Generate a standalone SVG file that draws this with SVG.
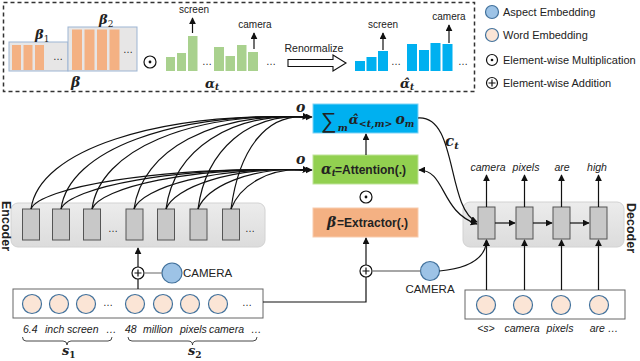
<svg xmlns="http://www.w3.org/2000/svg" width="640" height="361" viewBox="0 0 640 361">
<style>
text{font-family:"Liberation Sans",Arial,sans-serif;fill:#222}
.it{font-style:italic}
.math{font-family:"DejaVu Serif","Liberation Serif",serif;font-style:italic;font-weight:bold}
.ln{fill:none;stroke:#111;stroke-width:1.2}
.gl{fill:none;stroke:#888;stroke-width:1.3}
.cell{fill:#c8c8c8;stroke:#555;stroke-width:1}
.word{fill:#fbe5d6;stroke:#41719c;stroke-width:1.2}
.asp{fill:#9dc3e6;stroke:#41719c;stroke-width:1.2}
.ob{fill:#f4b183}
.gb{fill:#a9d18e}
.bb{fill:#00b0f0}
.op{fill:#fff;stroke:#111;stroke-width:1.2}
</style>
<defs>
<marker id="ah" viewBox="0 0 10 10" refX="9" refY="5" markerWidth="7" markerHeight="7" markerUnits="userSpaceOnUse" orient="auto-start-reverse"><path d="M0,0 L10,5 L0,10 z" fill="#111"/></marker>
<linearGradient id="gg" x1="0" y1="0" x2="0" y2="1"><stop offset="0" stop-color="#ececec"/><stop offset="1" stop-color="#dcdcdc"/></linearGradient>
</defs>

<!-- top dashed panel -->
<g id="panel">
<rect x="3.5" y="2.5" width="471" height="89" fill="none" stroke="#333" stroke-width="1.5" stroke-dasharray="4,3"/>
<rect x="9" y="42" width="59" height="29" fill="#e7e6e6" stroke="#9db5d3" stroke-width="1"/>
<rect x="68" y="27" width="69" height="44" fill="#e7e6e6" stroke="#9db5d3" stroke-width="1"/>
<rect class="ob" x="12" y="45" width="9" height="25"/>
<rect class="ob" x="23.5" y="45" width="9" height="25"/>
<rect class="ob" x="35" y="45" width="9" height="25"/>
<text x="58" y="60" font-size="10" text-anchor="middle">…</text>
<rect class="ob" x="72" y="29.5" width="10" height="40.5"/>
<rect class="ob" x="84.5" y="29.5" width="10" height="40.5"/>
<rect class="ob" x="97" y="29.5" width="10" height="40.5"/>
<rect class="ob" x="109.5" y="29.5" width="10" height="40.5"/>
<text x="128" y="53" font-size="10" text-anchor="middle">…</text>
<text class="math" x="35" y="39" font-size="13">β<tspan font-size="9" font-style="normal" font-weight="normal" dy="3">1</tspan></text>
<text class="math" x="99" y="24" font-size="13">β<tspan font-size="9" font-style="normal" font-weight="normal" dy="3">2</tspan></text>
<text class="math" x="71" y="87" font-size="14">β</text>
<circle class="op" cx="150" cy="62" r="6"/><circle cx="150" cy="62" r="1.4" fill="#111"/>

<rect class="gb" x="166" y="57" width="9" height="14"/>
<rect class="gb" x="177" y="53" width="9" height="18"/>
<rect class="gb" x="188" y="36" width="9.5" height="35"/>
<text x="207" y="65" font-size="10" text-anchor="middle">…</text>
<rect class="gb" x="214" y="47" width="10" height="24"/>
<rect class="gb" x="225.5" y="56" width="9.5" height="15"/>
<rect class="gb" x="237" y="45" width="9.5" height="26"/>
<rect class="gb" x="248" y="52" width="10" height="19"/>
<text x="271" y="65" font-size="10" text-anchor="middle">…</text>
<line class="ln" x1="192.5" y1="33" x2="192.5" y2="18" marker-end="url(#ah)"/>
<text x="194" y="13" font-size="10" text-anchor="middle">screen</text>
<line class="ln" x1="254" y1="49" x2="254" y2="33" marker-end="url(#ah)"/>
<text x="255" y="28" font-size="10" text-anchor="middle">camera</text>
<text class="math" x="205" y="88" font-size="13">α<tspan font-size="9" dy="2">t</tspan></text>

<polygon points="288,59.5 333,59.5 333,55 346,63 333,71 333,66.5 288,66.5" fill="#fff" stroke="#111" stroke-width="1.1"/>
<text x="314" y="52" font-size="10.5" text-anchor="middle">Renormalize</text>

<rect class="bb" x="355" y="61" width="10" height="10"/>
<rect class="bb" x="366.5" y="57" width="10" height="14"/>
<rect class="bb" x="378" y="51" width="10" height="20"/>
<text x="396" y="65" font-size="10" text-anchor="middle">…</text>
<rect class="bb" x="407" y="44" width="10" height="27"/>
<rect class="bb" x="419" y="50" width="10" height="21"/>
<rect class="bb" x="430.5" y="43" width="10" height="28"/>
<rect class="bb" x="442.5" y="44" width="10" height="27"/>
<text x="463" y="65" font-size="10" text-anchor="middle">…</text>
<line class="ln" x1="383" y1="50" x2="383" y2="33" marker-end="url(#ah)"/>
<text x="383" y="28" font-size="10" text-anchor="middle">screen</text>
<line class="ln" x1="449" y1="43" x2="449" y2="25" marker-end="url(#ah)"/>
<text x="449" y="20" font-size="10" text-anchor="middle">camera</text>
<text class="math" x="400" y="88" font-size="13">α&#770;<tspan font-size="9" dy="2">t</tspan></text>
</g>

<!-- legend -->
<g id="legend">
<circle class="asp" cx="492" cy="12" r="6.5"/>
<text x="503" y="16" font-size="11">Aspect Embedding</text>
<circle class="word" cx="492" cy="35" r="6.5"/>
<text x="503" y="39" font-size="11">Word Embedding</text>
<circle class="op" cx="492" cy="60" r="5.5"/><circle cx="492" cy="60" r="1.3" fill="#111"/>
<text x="503" y="64" font-size="11">Element-wise Multiplication</text>
<circle class="op" cx="492" cy="83" r="5.5"/><path d="M488.5,83 H495.5 M492,79.5 V86.5" stroke="#111" stroke-width="1.2"/>
<text x="503" y="87" font-size="11">Element-wise Addition</text>
</g>

<!-- encoder -->
<g id="encoder">
<rect x="11" y="203" width="254" height="44" rx="7" fill="url(#gg)" stroke="#d2d2d2"/>
<rect class="cell" x="22.5" y="209" width="17" height="31"/>
<rect class="cell" x="52.5" y="209" width="17" height="31"/>
<rect class="cell" x="83.5" y="209" width="17" height="31"/>
<text x="113" y="232" font-size="10" text-anchor="middle">…</text>
<rect class="cell" x="126" y="209" width="17" height="31"/>
<rect class="cell" x="157.5" y="209" width="17" height="31"/>
<rect class="cell" x="190" y="209" width="17" height="31"/>
<rect class="cell" x="222.5" y="209" width="17" height="31"/>
<text x="250" y="232" font-size="10" text-anchor="middle">…</text>
<text transform="translate(1.5,226) rotate(90)" font-size="12.5" font-weight="bold" text-anchor="middle" fill="#111">Encoder</text>
</g>

<g id="encoder-input">
<rect x="13" y="289" width="250" height="29" fill="#fff" stroke="#666" stroke-width="1"/>
<circle class="word" cx="32" cy="304" r="9.5"/>
<circle class="word" cx="59" cy="304" r="9.5"/>
<circle class="word" cx="86" cy="304" r="9.5"/>
<text x="108" y="306" font-size="10" text-anchor="middle">…</text>
<circle class="word" cx="135" cy="304" r="9.5"/>
<circle class="word" cx="163" cy="304" r="9.5"/>
<circle class="word" cx="190" cy="304" r="9.5"/>
<circle class="word" cx="218" cy="304" r="9.5"/>
<text x="247" y="306" font-size="10" text-anchor="middle">…</text>
<text class="it" x="23" y="333" font-size="10.5">6.4</text>
<text class="it" x="45" y="333" font-size="10.5">inch</text>
<text class="it" x="67" y="333" font-size="10.5">screen</text>
<text class="it" x="106" y="333" font-size="10.5">…</text>
<text class="it" x="125" y="333" font-size="10.5">48</text>
<text class="it" x="143" y="333" font-size="10.5">million</text>
<text class="it" x="180" y="333" font-size="10.5">pixels</text>
<text class="it" x="209" y="333" font-size="10.5">camera</text>
<text class="it" x="251" y="333" font-size="10.5">…</text>
<path d="M22.5,337 Q22.5,341 26,341 H63 Q67,341 67,345 Q67,341 71,341 H108 Q112,341 112,337" fill="none" stroke="#333" stroke-width="0.9"/>
<path d="M128,337 Q128,341 132,341 H188 Q192.5,341 192.5,345 Q192.5,341 197,341 H253 Q257,341 257,337" fill="none" stroke="#333" stroke-width="0.9"/>
<text class="math" x="62" y="355" font-size="13" font-weight="normal">s<tspan font-size="9" font-style="normal" dy="3">1</tspan></text>
<text class="math" x="188" y="355" font-size="13" font-weight="normal">s<tspan font-size="9" font-style="normal" dy="3">2</tspan></text>
</g>

<g id="enc-plus">
<circle class="op" cx="138" cy="273" r="6"/><path d="M134.5,273 H141.5 M138,269.5 V276.5" stroke="#111" stroke-width="1.2"/>
</g>
<g id="enc-aspect">
<circle class="asp" cx="172" cy="273" r="10"/>
<text x="183" y="277" font-size="11.5">CAMERA</text>
</g>

<!-- middle modules -->
<g id="sum">
<rect x="313" y="104" width="105" height="29" fill="#00b0f0" stroke="#7fd3f5"/>
<text x="321" y="128" font-size="22" font-family="'DejaVu Serif',serif" fill="#111">∑<tspan class="math" font-size="9.5" dx="1" dy="3">m</tspan><tspan class="math" font-size="13" dx="1" dy="-7">α&#770;</tspan><tspan class="math" font-size="9.5" dy="3" font-family="'Liberation Serif',serif">&lt;t,m&gt;</tspan><tspan class="math" font-size="14" dx="3" dy="-3">o</tspan><tspan class="math" font-size="9" dy="3">m</tspan></text>
</g>
<g id="attention">
<rect x="313" y="155" width="105" height="29" fill="#92d050" stroke="#bfe39a"/>
<text class="math" x="321" y="174" font-size="14" fill="#111">α<tspan font-size="9" dy="2">t</tspan></text>
<text x="335" y="174" font-size="12" font-weight="bold" fill="#111">=Attention(.)</text>
</g>
<g id="mult">
<circle class="op" cx="366" cy="197" r="6"/><circle cx="366" cy="197" r="1.4" fill="#111"/>
</g>
<g id="extractor">
<rect x="313" y="208" width="105" height="29" fill="#f4b183" stroke="#f8cbad"/>
<text class="math" x="327" y="227" font-size="14" fill="#111">β</text>
<text x="337" y="227" font-size="12" font-weight="bold" fill="#111">=Extractor(.)</text>
</g>
<g id="mid-plus">
<circle class="op" cx="366" cy="271" r="6"/><path d="M362.5,271 H369.5 M366,267.5 V274.5" stroke="#111" stroke-width="1.2"/>
</g>
<g id="dec-aspect">
<circle class="asp" cx="430" cy="271" r="9.5"/>
<text x="430" y="293" font-size="11.5" text-anchor="middle">CAMERA</text>
</g>

<!-- decoder -->
<g id="decoder">
<rect x="463" y="202" width="161" height="45" rx="7" fill="url(#gg)" stroke="#d2d2d2"/>
<rect class="cell" x="478" y="207" width="17" height="32"/>
<rect class="cell" x="516" y="207" width="17" height="32"/>
<rect class="cell" x="553" y="207" width="17" height="32"/>
<rect class="cell" x="590" y="207" width="17" height="32"/>
<text transform="translate(627,228) rotate(90)" font-size="12.5" font-weight="bold" text-anchor="middle" fill="#111">Decoder</text>
<text class="it" x="488" y="171" font-size="10.5" text-anchor="middle">camera</text>
<text class="it" x="526" y="171" font-size="10.5" text-anchor="middle">pixels</text>
<text class="it" x="562" y="171" font-size="10.5" text-anchor="middle">are</text>
<text class="it" x="597" y="171" font-size="10.5" text-anchor="middle">high</text>
</g>
<g id="decoder-input">
<rect x="465" y="290" width="160" height="29" fill="#fff" stroke="#666"/>
<circle class="word" cx="486" cy="305" r="9.5"/>
<circle class="word" cx="523" cy="305" r="9.5"/>
<circle class="word" cx="561" cy="305" r="9.5"/>
<circle class="word" cx="599" cy="305" r="9.5"/>
<text class="it" x="486" y="332" font-size="10.5" text-anchor="middle">&lt;s&gt;</text>
<text class="it" x="522" y="332" font-size="10.5" text-anchor="middle">camera</text>
<text class="it" x="560" y="332" font-size="10.5" text-anchor="middle">pixels</text>
<text class="it" x="604" y="332" font-size="10.5" text-anchor="middle">are …</text>
</g>

<!-- labels -->
<g id="labels">
<text class="math" x="296" y="112" font-size="14" fill="#111">o</text>
<text class="math" x="296" y="164" font-size="14" fill="#111">o</text>
<text class="math" x="445" y="146" font-size="15" fill="#111">c<tspan font-size="10" dy="3">t</tspan></text>
</g>

<!-- connectors -->
<g id="connectors">
<path class="ln" d="M31,209 C39,150 156,112 309,117"/>
<path class="ln" d="M61,209 C69,150 172,112 309,117"/>
<path class="ln" d="M92,209 C100,150 189,112 309,117"/>
<path class="ln" d="M134,209 C142,150 212,112 309,117"/>
<path class="ln" d="M166,209 C174,150 230,112 309,117"/>
<path class="ln" d="M198,209 C206,150 248,112 309,117"/>
<path class="ln" d="M231,209 C239,150 266,112 309,117" marker-end="url(#ah)"/>
<path class="ln" d="M31,209 C39,188 156,166 309,170"/>
<path class="ln" d="M61,209 C69,188 172,166 309,170"/>
<path class="ln" d="M92,209 C100,188 189,166 309,170"/>
<path class="ln" d="M134,209 C142,188 212,166 309,170"/>
<path class="ln" d="M166,209 C174,188 230,166 309,170"/>
<path class="ln" d="M198,209 C206,188 248,166 309,170"/>
<path class="ln" d="M231,209 C239,188 266,166 309,170" marker-end="url(#ah)"/>
<line class="ln" x1="300" y1="117" x2="312" y2="117" marker-end="url(#ah)"/>
<line class="ln" x1="300" y1="170" x2="312" y2="170" marker-end="url(#ah)"/>

<line class="ln" x1="366" y1="155" x2="366" y2="134" marker-end="url(#ah)"/>
<line class="ln" x1="366" y1="265" x2="366" y2="238" marker-end="url(#ah)"/>
<path class="ln" d="M263,302 H366 V277"/>
<line class="gl" x1="372" y1="271" x2="420.5" y2="271"/>
<path class="ln" d="M439.5,271 C470,268 486,258 486.5,240" marker-end="url(#ah)"/>

<path class="ln" d="M418,118 C458,115 446,208 477,222" marker-end="url(#ah)"/>
<path class="ln" d="M419,170 C446,170 440,212 477,224" marker-start="url(#ah)" marker-end="url(#ah)"/>

<line class="ln" x1="138" y1="289" x2="138" y2="279"/>
<line class="ln" x1="138" y1="267" x2="138" y2="248" marker-end="url(#ah)"/>
<line class="gl" x1="144" y1="273" x2="162" y2="273"/>

<line class="ln" x1="495" y1="223" x2="515" y2="223" marker-end="url(#ah)"/>
<line class="ln" x1="533" y1="223" x2="552" y2="223" marker-end="url(#ah)"/>
<line class="ln" x1="570" y1="223" x2="589" y2="223" marker-end="url(#ah)"/>
<line class="ln" x1="486.5" y1="207" x2="486.5" y2="175" marker-end="url(#ah)"/>
<line class="ln" x1="524.5" y1="207" x2="524.5" y2="175" marker-end="url(#ah)"/>
<line class="ln" x1="561.5" y1="207" x2="561.5" y2="175" marker-end="url(#ah)"/>
<line class="ln" x1="598.5" y1="207" x2="598.5" y2="175" marker-end="url(#ah)"/>
<line class="ln" x1="486.5" y1="290" x2="486.5" y2="240" marker-end="url(#ah)"/>
<line class="ln" x1="524.5" y1="290" x2="524.5" y2="240" marker-end="url(#ah)"/>
<line class="ln" x1="561.5" y1="290" x2="561.5" y2="240" marker-end="url(#ah)"/>
<line class="ln" x1="598.5" y1="290" x2="598.5" y2="240" marker-end="url(#ah)"/>
</g>
</svg>
